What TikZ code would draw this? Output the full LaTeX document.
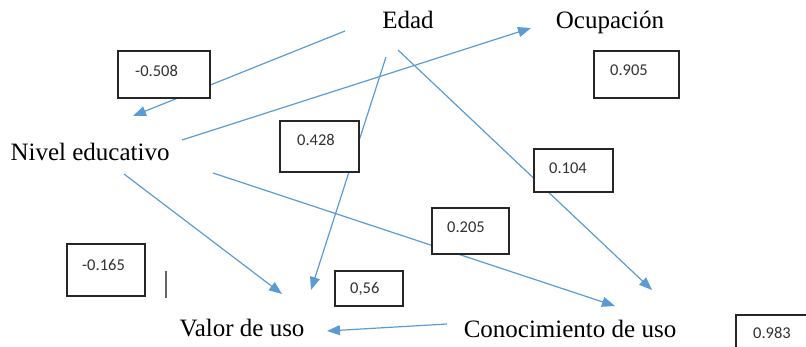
\documentclass[tikz,border=0pt]{standalone}
\usepackage{fontspec}
\setmainfont{Liberation Serif}
\newfontfamily\numfont{Carlito}
\usetikzlibrary{arrows.meta}
\definecolor{arrblue}{RGB}{91,155,213}
\definecolor{boxgray}{RGB}{38,38,38}
\definecolor{numgray}{RGB}{50,50,50}
\begin{document}
\begin{tikzpicture}[x=1pt,y=-1pt,
  lbl/.style={font=\fontsize{25}{28}\selectfont, inner sep=0pt, anchor=base},
  arr/.style={draw=arrblue, line width=1.2pt, -{Triangle[length=13pt,width=10pt]}},
  nbox/.style={draw=boxgray, fill=white, line width=1.6pt, anchor=north west, inner sep=0pt},
  num/.style={font=\numfont\fontsize{16.5}{18}\selectfont, text=numgray, inner sep=0pt, anchor=west}]
\useasboundingbox (0,0) rectangle (806,346);

% labels
\node[lbl] (edad) at (408,28) {Edad};
\node[lbl] (ocup) at (610,28) {Ocupación};
\node[lbl] (nivel) at (90,160) {Nivel educativo};
\node[lbl] (valor) at (242,336) {Valor de uso};
\node[lbl] (conoc) at (570,337) {Conocimiento de uso};

% connector endpoints
\coordinate (s1) at (345,31);  \coordinate (t1) at (133,116);
\coordinate (s2) at (182,140); \coordinate (t2) at (531,28);
\coordinate (s3) at (386,57);  \coordinate (t3) at (311,290);
\coordinate (s4) at (398,50);  \coordinate (t4) at (652,290);
\coordinate (s5) at (124,174); \coordinate (t5) at (282,294);
\coordinate (s6) at (213,173); \coordinate (t6) at (615,306);
\coordinate (s7) at (447,324); \coordinate (t7) at (327,331);

\draw[arr] (s1) -- (t1);
\draw[arr] (s2) -- (t2);
\draw[arr] (s3) -- (t3);
\draw[arr] (s4) -- (t4);
\draw[arr] (s5) -- (t5);
\draw[arr] (s6) -- (t6);
\draw[arr] (s7) -- (t7);

% boxes
\node[nbox, minimum width=92pt, minimum height=47pt] (b1) at (117,50) {};
\node[num] (n1) at (135,71) {-0.508};
\node[nbox, minimum width=85pt, minimum height=47pt] (b2) at (593,50) {};
\node[num] (n2) at (610,70) {0.905};
\node[nbox, minimum width=79pt, minimum height=51pt] (b3) at (279,120) {};
\node[num] (n3) at (297,140) {0.428};
\node[nbox, minimum width=79pt, minimum height=43pt] (b4) at (533,148) {};
\node[num] (n4) at (549,168) {0.104};
\node[nbox, minimum width=77pt, minimum height=46pt] (b5) at (431,207) {};
\node[num] (n5) at (447,227) {0.205};
\node[nbox, minimum width=78pt, minimum height=52pt] (b6) at (66,243) {};
\node[num] (n6) at (82,265) {-0.165};
\node[nbox, minimum width=68pt, minimum height=35pt] (b7) at (334,270) {};
\node[num] (n7) at (350,289) {0,56};
\node[nbox, minimum width=90pt, minimum height=50pt] (b8) at (735,314) {};
\node[num] (n8) at (753,333) {0.983};

% stray bar
\draw[line width=1.5pt, draw=gray!80!black] (166,271) -- (166,298);
\end{tikzpicture}
\end{document}
